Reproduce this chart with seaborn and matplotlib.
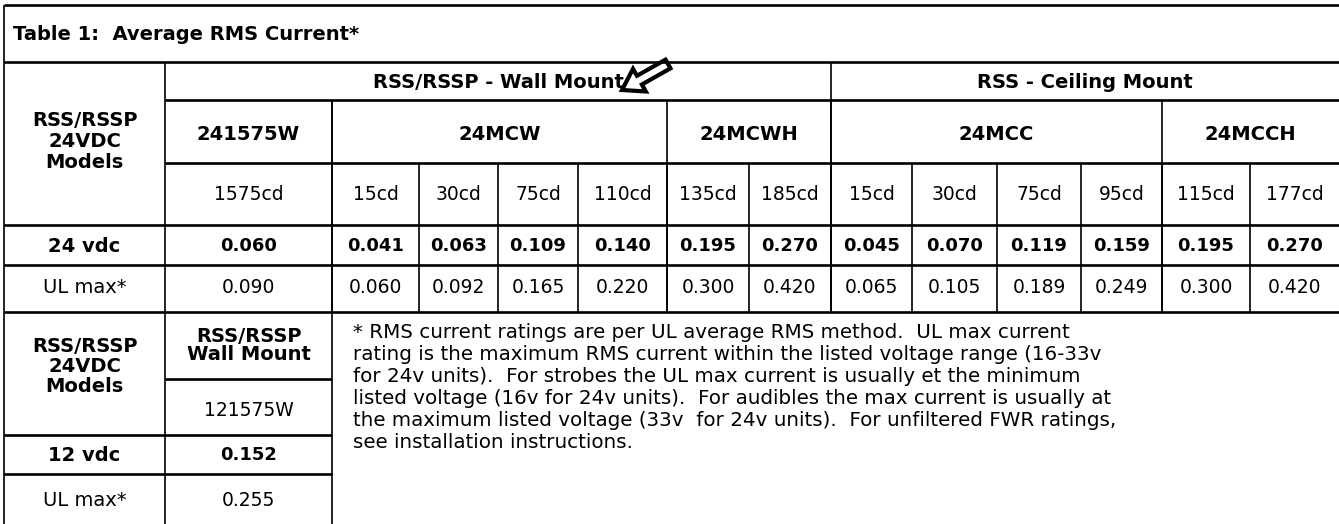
import matplotlib.pyplot as plt
import matplotlib.patches as mpatches
import seaborn as sns

sns.set_theme(style="white")
plt.rcParams['font.family'] = ['DejaVu Sans']
plt.rcParams['text.color'] = 'black'

title = "Table 1:  Average RMS Current*"
bands = ["RSS/RSSP - Wall Mount", "RSS - Ceiling Mount"]
band_span = [7, 6]
models = ["241575W", "24MCW", "24MCWH", "24MCC", "24MCCH"]
model_span = [1, 4, 2, 4, 2]
candela = ["1575cd", "15cd", "30cd", "75cd", "110cd", "135cd", "185cd",
           "15cd", "30cd", "75cd", "95cd", "115cd", "177cd"]
avg_24v = [0.060, 0.041, 0.063, 0.109, 0.140, 0.195, 0.270,
           0.045, 0.070, 0.119, 0.159, 0.195, 0.270]
ulmax_24v = [0.090, 0.060, 0.092, 0.165, 0.220, 0.300, 0.420,
             0.065, 0.105, 0.189, 0.249, 0.300, 0.420]
row_labels = ["24 vdc", "UL max*"]
models_label = "RSS/RSSP\n24VDC\nModels"

header_12v = "RSS/RSSP\nWall Mount"
model_12v = "121575W"
avg_12v = 0.152
ulmax_12v = 0.255
row_labels_12v = ["12 vdc", "UL max*"]

footnote = [
    "* RMS current ratings are per UL average RMS method.  UL max current",
    "rating is the maximum RMS current within the listed voltage range (16-33v",
    "for 24v units).  For strobes the UL max current is usually et the minimum",
    "listed voltage (16v for 24v units).  For audibles the max current is usually at",
    "the maximum listed voltage (33v  for 24v units).  For unfiltered FWR ratings,",
    "see installation instructions.",
]

# layout in pixels
col_x = [4, 165, 332, 419, 498, 578, 667, 749, 831, 912, 997, 1081, 1162, 1250, 1339]
y_top, y_title, y_band, y_model, y_cd, y_avg, y_ul = 5, 62, 100, 163, 225, 265, 312
y_hdr2, y_hdr, y_12v, y_end = 379, 435, 474, 524

fig = plt.figure(figsize=(13.39, 5.24), dpi=100)
ax = fig.add_axes([0, 0, 1, 1])
ax.set_xlim(0, 1339)
ax.set_ylim(524, 0)
ax.axis('off')

hk = dict(color='black', lw=1.9)
vk = dict(color='black', lw=1.2)

# horizontal rules
for y in [y_top, y_title, y_cd, y_avg, y_ul]:
    ax.hlines(y, col_x[0], col_x[-1], **hk)
for y in [y_band, y_model]:
    ax.hlines(y, col_x[1], col_x[-1], **hk)
ax.hlines(y_hdr2, col_x[1], col_x[2], **hk)
for y in [y_hdr, y_12v]:
    ax.hlines(y, col_x[0], col_x[2], **hk)

# vertical rules
ax.vlines(col_x[0], y_top, y_end, **vk)
ax.vlines(col_x[1], y_title, y_end, **vk)
ax.vlines(col_x[2], y_band, y_end, **vk)
for i in range(3, len(col_x) - 1):
    ax.vlines(col_x[i], y_model, y_ul, **vk)
edge = 1
for span in model_span[:-1]:
    edge += span
    ax.vlines(col_x[edge], y_band, y_ul, **vk)
ax.vlines(col_x[1 + band_span[0]], y_title, y_ul, **vk)

ax.text(13, (y_top + y_title) / 2 + 1, title, fontsize=14, fontweight='bold',
        ha='left', va='center')

def mid(a, b):
    return (a + b) / 2

# bands
start = 1
for name, span in zip(bands, band_span):
    ax.text(mid(col_x[start], col_x[start + span]), mid(y_title, y_band) + 1, name,
            fontsize=14, fontweight='bold', ha='center', va='center')
    start += span

# models
start = 1
for name, span in zip(models, model_span):
    ax.text(mid(col_x[start], col_x[start + span]), mid(y_band, y_model) + 3, name,
            fontsize=14, fontweight='bold', ha='center', va='center')
    start += span

for i, (cd, a, u) in enumerate(zip(candela, avg_24v, ulmax_24v)):
    cx = mid(col_x[i + 1], col_x[i + 2])
    ax.text(cx, mid(y_model, y_cd) + 1, cd, fontsize=13.5, ha='center', va='center')
    ax.text(cx, mid(y_cd, y_avg) + 1, f"{a:.3f}", fontsize=13, fontweight='bold',
            ha='center', va='center')
    ax.text(cx, mid(y_avg, y_ul) - 1, f"{u:.3f}", fontsize=13.5, ha='center', va='center')

lx = mid(col_x[0], col_x[1])
ax.text(lx, mid(y_title, y_cd) - 2, models_label, fontsize=14, fontweight='bold',
        ha='center', va='center', linespacing=1.1)
ax.text(lx, mid(y_cd, y_avg) + 1, row_labels[0], fontsize=14, fontweight='bold',
        ha='center', va='center')
ax.text(lx, mid(y_avg, y_ul) - 1, row_labels[1], fontsize=14, ha='center', va='center')

# 12 vdc block
ax.text(lx, mid(y_ul, y_hdr) - 7, models_label, fontsize=14, fontweight='bold',
        ha='center', va='center', linespacing=1.1)
ax.text(lx, mid(y_hdr, y_12v) + 1, row_labels_12v[0], fontsize=14, fontweight='bold',
        ha='center', va='center')
ax.text(lx, mid(y_12v, y_end) + 2, row_labels_12v[1], fontsize=14, ha='center', va='center')
cx = mid(col_x[1], col_x[2])
ax.text(cx, mid(y_ul, y_hdr2), header_12v, fontsize=14, fontweight='bold',
        ha='center', va='center', linespacing=1.0)
ax.text(cx, mid(y_hdr2, y_hdr) + 3, model_12v, fontsize=13.5, ha='center', va='center')
ax.text(cx, mid(y_hdr, y_12v) + 1, f"{avg_12v:.3f}", fontsize=13, fontweight='bold',
        ha='center', va='center')
ax.text(cx, mid(y_12v, y_end) + 2, f"{ulmax_12v:.3f}", fontsize=13.5,
        ha='center', va='center')

for i, line in enumerate(footnote):
    ax.text(353, 333 + i * 22, line, fontsize=14.3, ha='left', va='center')

# hand-drawn pointer arrow next to the wall mount band
ax.add_patch(mpatches.FancyArrow(668, 64, -46, 26, width=10, head_width=26,
                                 head_length=20, fc='white', ec='black', lw=3,
                                 length_includes_head=True))

fig.savefig("out.png", dpi=100, facecolor='white')
